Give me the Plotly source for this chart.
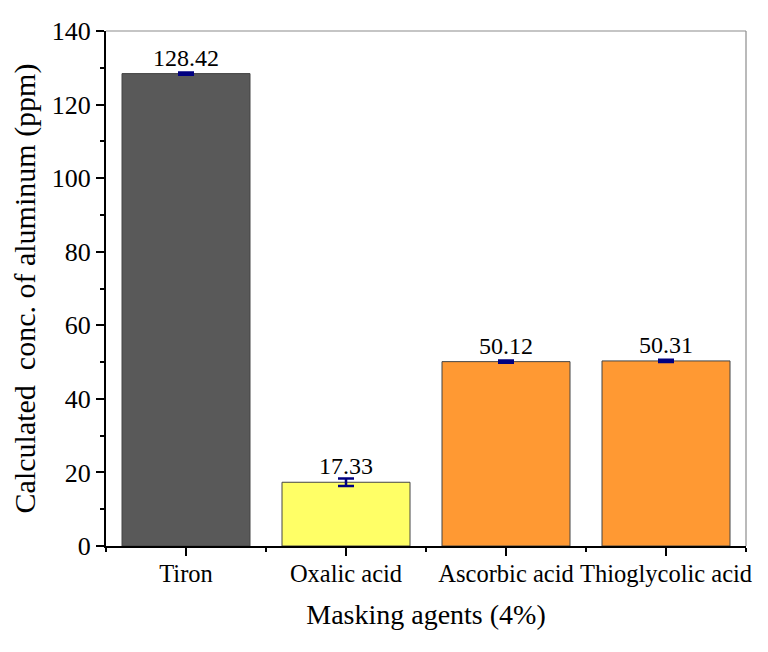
import plotly.graph_objects as go

# === Data ===
agents = ["Tiron", "Oxalic acid", "Ascorbic acid", "Thioglycolic acid"]
conc = [128.42, 17.33, 50.12, 50.31]
conc_err = [0.3, 1.0, 0.3, 0.3]
bar_colors = ["#595959", "#FFFF66", "#FF9933", "#FF9933"]
y_ticks = [0, 20, 40, 60, 80, 100, 120, 140]

font_family = "Liberation Serif, Times New Roman, serif"
x_pos = list(range(len(agents)))

fig = go.Figure()

fig.add_trace(go.Bar(
    x=x_pos,
    y=conc,
    width=0.8,
    marker=dict(color=bar_colors, line=dict(color="#444444", width=1)),
    error_y=dict(type="data", array=conc_err, visible=True,
                 color="#000080", thickness=2.5, width=8),
    showlegend=False,
))

# value labels above each bar
for xi, v in zip(x_pos, conc):
    fig.add_annotation(
        x=xi, y=v, text=f"{v:.2f}", showarrow=False,
        yanchor="bottom", yshift=1,
        font=dict(family=font_family, size=24, color="black"),
    )

# thin gray frame on top and right
fig.add_shape(type="line", xref="paper", yref="paper", x0=0, x1=1, y0=1, y1=1,
              line=dict(color="#8c8c8c", width=1.2))
fig.add_shape(type="line", xref="paper", yref="paper", x0=1, x1=1, y0=0, y1=1,
              line=dict(color="#8c8c8c", width=1.2))

# page body has an 8px margin, so the figure is a bit smaller than the window
fig.update_layout(
    width=752,
    height=636,
    plot_bgcolor="white",
    paper_bgcolor="white",
    font=dict(family=font_family, color="black"),
    margin=dict(l=98, r=9, t=17, b=98),
    xaxis=dict(
        range=[-0.5, 3.5],
        tickvals=x_pos,
        ticktext=agents,
        ticks="outside", ticklen=8, tickwidth=1.5, tickcolor="black",
        minor=dict(tickvals=[-0.5, 0.5, 1.5, 2.5, 3.5], ticks="outside",
                   ticklen=4, tickwidth=1.5, tickcolor="black"),
        showline=True, linecolor="black", linewidth=2,
        showgrid=False, zeroline=False,
        tickfont=dict(size=24.5),
        ticklabelstandoff=-3,
        title=dict(text="Masking agents (4%)", font=dict(size=28), standoff=18),
    ),
    yaxis=dict(
        range=[0, 140],
        tickvals=y_ticks,
        ticks="outside", ticklen=8, tickwidth=1.5, tickcolor="black",
        minor=dict(dtick=10, ticks="outside", ticklen=4, tickwidth=1.5,
                   tickcolor="black"),
        showline=True, linecolor="black", linewidth=2,
        showgrid=False, zeroline=False,
        tickfont=dict(size=26),
        title=dict(text="Calculated\u00a0 conc. of aluminum (ppm)",
                   font=dict(size=30), standoff=8),
    ),
)

fig.write_html("out.html")
